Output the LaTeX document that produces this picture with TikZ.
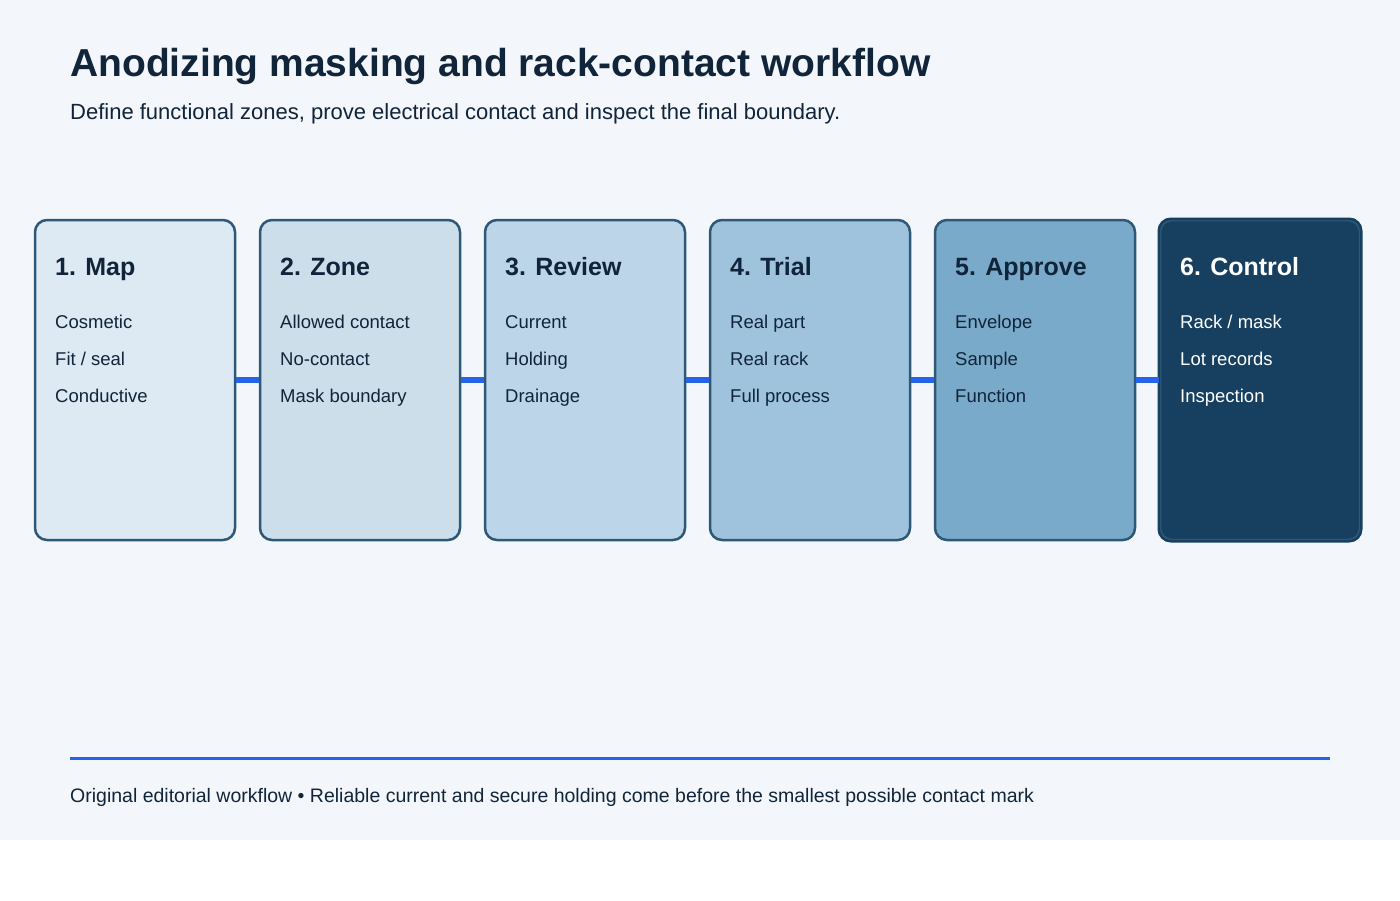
\documentclass[tikz,border=0pt]{standalone}
\usepackage{fontspec}
\setmainfont{Liberation Sans}
\definecolor{bgpage}{HTML}{F3F7FB}
\definecolor{ink}{HTML}{10243A}
\definecolor{edge}{HTML}{2F5878}
\definecolor{link}{HTML}{2563EB}
\definecolor{stepa}{HTML}{DDE9F3}
\definecolor{stepb}{HTML}{CDDEEB}
\definecolor{stepc}{HTML}{BDD5E8}
\definecolor{stepd}{HTML}{9FC3DC}
\definecolor{stepe}{HTML}{7AAAC9}
\definecolor{stepf}{HTML}{173F5F}
\tikzset{
  stage/.style={draw=edge, line width=2.5pt, rounded corners=12pt, minimum width=200pt, minimum height=320pt, inner sep=0pt},
  head/.style={anchor=base west, inner sep=0pt, font=\fontsize{25}{30}\selectfont\bfseries},
  item/.style={anchor=base west, inner sep=0pt, font=\fontsize{18.5}{22}\selectfont},
  joint/.style={draw=link, line width=6pt}
}
\begin{document}
\begin{tikzpicture}[x=1pt,y=-1pt]
  \useasboundingbox (0,0) rectangle (1400,900);
  \fill[white] (0,0) rectangle (1400,900);
  \fill[bgpage] (0,0) rectangle (1400,840);
  \node[anchor=base west, inner sep=0pt, text=ink, font=\fontsize{39}{46}\selectfont\bfseries] (title) at (70,76) {Anodizing masking and rack-contact workflow};
  \node[anchor=base west, inner sep=0pt, text=ink, font=\fontsize{22}{26}\selectfont] (sub) at (70,119) {Define functional zones, prove electrical contact and inspect the final boundary.};
  % stages
  \foreach \i/\c/\t/\a/\b/\d/\tc in {1/stepa/1. Map/Cosmetic/Fit \slash{} seal/Conductive/ink,
      2/stepb/2. Zone/Allowed contact/No-contact/Mask boundary/ink,
      3/stepc/3. Review/Current/Holding/Drainage/ink,
      4/stepd/4. Trial/Real part/Real rack/Full process/ink,
      5/stepe/5. Approve/Envelope/Sample/Function/ink,
      6/stepf/6. Control/Rack \slash{} mask/Lot records/Inspection/white} {
    \pgfmathsetmacro{\xl}{35+225*(\i-1)}
    \node[stage, fill=\c] (s\i) at (\xl+100,380) {};
    \node[head, text=\tc] (h\i) at (\xl+20,275) {\t};
    \node[item, text=\tc] (a\i) at (\xl+20,328) {\a};
    \node[item, text=\tc] (b\i) at (\xl+20,365) {\b};
    \node[item, text=\tc] (d\i) at (\xl+20,402) {\d};
  }
  \draw[draw=stepf, line width=2.5pt, rounded corners=12pt] (s6.south west) rectangle (s6.north east);
  \foreach \i [evaluate=\i as \j using int(\i+1)] in {1,...,5}
    \draw[joint] (s\i.east) -- (s\j.west);
  % footer
  \coordinate (fl) at (70,758);
  \coordinate (fr) at (1330,758);
  \draw[link, line width=3pt] (fl) -- (fr);
  \node[anchor=base west, inner sep=0pt, text=ink, font=\fontsize{19.5}{24}\selectfont] (foot) at (70,802) {Original editorial workflow • Reliable current and secure holding come before the smallest possible contact mark};
\end{tikzpicture}
\end{document}
